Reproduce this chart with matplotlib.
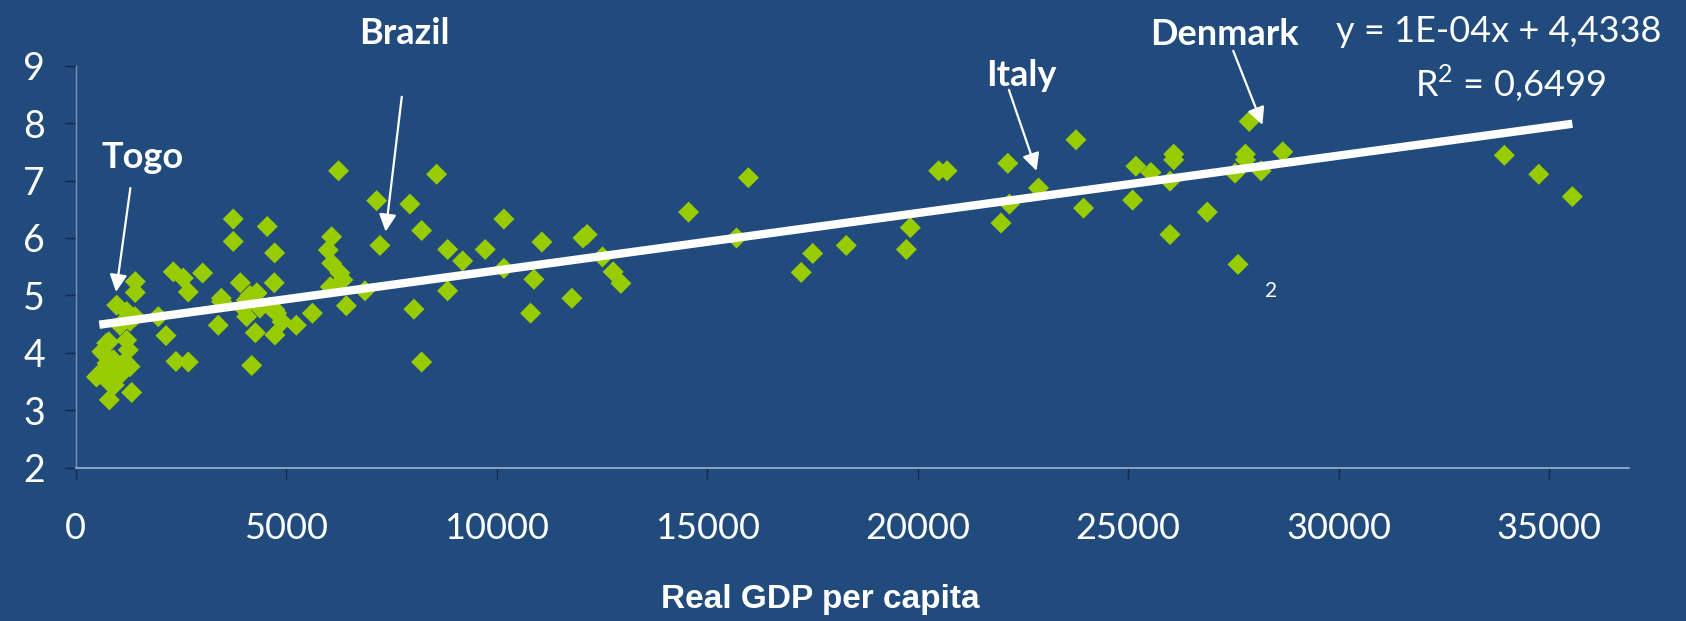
import numpy as np
import matplotlib
matplotlib.use('Agg')
from matplotlib import pyplot as plt

# CONSTANTS
BG = '#214a7d'
GREEN = '#99cc00'
SLOPE = 1e-4
INTERCEPT = 4.4338

plt.rcParams['mathtext.fontset'] = 'custom'
plt.rcParams['mathtext.rm'] = 'Lato'

# DATA
gdp = [491, 537, 620, 656, 736, 736, 745, 789, 799, 815, 893, 917, 974, 974,
       1052, 1086, 1171, 1211, 1211, 1250, 1290, 1290, 1330, 1408, 1416, 1416,
       1962, 2145, 2318, 2382, 2556, 2674, 2674, 3016, 3387, 3461, 3468, 3743,
       3743, 3911, 3981, 4055, 4061, 4140, 4182, 4268, 4299, 4307, 4377, 4551,
       4615, 4726, 4717, 4733, 4733, 4774, 4900, 5242, 5624,
       5999, 6049, 6080, 6080, 6244, 6277, 6346, 6430, 6871, 7149, 7227, 7940,
       8035, 8218, 8218, 8574, 8835, 8835, 9192, 9728, 10172, 10172, 10806,
       10885, 11075, 11787, 12050, 12150, 12515, 12768, 12951, 14559, 15699,
       15981, 17235, 17508, 18306, 19733, 19827, 20500, 20700, 21981, 22143,
       22181, 22872, 23762, 23942, 25108, 25186, 25543, 25996, 25996, 26084,
       26084, 26882, 27541, 27612, 27788, 27788, 27878, 28160, 28675, 33939,
       34756, 35554]
score = [3.58, 3.61, 4.02, 3.99, 4.17, 3.76, 3.82, 4.19, 3.18, 3.47, 3.88, 3.44,
         3.67, 4.83, 4.48, 3.64, 3.85, 4.22, 4.72, 4.05, 3.76, 4.55, 3.31, 4.63,
         5.24, 5.05,
         4.63, 4.30, 5.41, 3.85, 5.30, 5.06, 3.84, 5.39, 4.48, 4.95, 4.89, 6.33,
         5.94, 5.22, 4.78, 4.92, 4.63, 5.00, 3.78, 4.35, 5.04, 5.04, 4.78, 6.20,
         4.80, 5.74, 5.22, 4.75, 4.31, 4.69, 4.54, 4.48, 4.69,
         5.79, 5.15, 6.02, 5.56, 7.17, 5.39, 5.27, 4.82, 5.08, 6.65, 5.87, 6.59,
         4.76, 6.13, 3.84, 7.11, 5.80, 5.08, 5.60, 5.80, 6.33, 5.47, 4.69,
         5.28, 5.93, 4.95, 6.00, 6.06, 5.67, 5.41, 5.21, 6.45, 6.00,
         7.05, 5.40, 5.73, 5.87, 5.80, 6.18, 7.17, 7.17, 6.26, 7.30,
         6.59, 6.87, 7.71, 6.52, 6.66, 7.25, 7.14, 6.99, 6.06, 7.46,
         7.36, 6.45, 7.13, 5.54, 7.46, 7.36, 8.03, 7.17, 7.50, 7.44,
         7.11, 6.72]

xticks = [0, 5000, 10000, 15000, 20000, 25000, 30000, 35000]
yticks = [2, 3, 4, 5, 6, 7, 8, 9]

# labelled countries: text position and arrow tail -> tip (data coords)
countries = ['Togo', 'Brazil', 'Italy', 'Denmark']
label_xy = [(1598, 7.22), (7797, 9.37), (22452, 8.65), (27278, 9.36)]
arrow_from = [(1299, 6.87), (7746, 8.46), (22168, 8.58), (27498, 9.26)]
arrow_to = [(957, 5.06), (7363, 6.11), (22826, 7.17), (28192, 7.97)]


# SCRIPT
if __name__ == '__main__':
    fig = plt.figure(figsize=(16.86, 6.21), dpi=100, facecolor=BG)
    ax = fig.add_axes([0.0449, 0.2469, 0.9213, 0.6473], facecolor=BG)

    ax.scatter(gdp, score, marker='D', s=115, color=GREEN,
               edgecolors='none', zorder=2)

    # linear trend line over the data range
    x_fit = np.array([min(gdp) + 70, max(gdp)])
    ax.plot(x_fit, SLOPE * x_fit + INTERCEPT, color='white', lw=6,
            solid_capstyle='butt', zorder=3)

    ax.set_xlim(0, 36900)
    ax.set_ylim(2, 9)
    ax.set_xticks(xticks)
    ax.set_yticks(yticks)
    ax.set_xticklabels([str(t) for t in xticks], family='Lato', fontsize=26,
                       color='white')
    ax.set_yticklabels([str(t) for t in yticks], family='Lato', fontsize=27,
                       color='white')
    ax.tick_params(axis='x', direction='out', length=8, width=1,
                   color='#13294a', pad=24)
    ax.tick_params(axis='y', direction='out', length=8, width=1,
                   color='#13294a', pad=14)

    for side in ['top', 'right']:
        ax.spines[side].set_visible(False)
    ax.spines['left'].set_color('#7d93b5')
    ax.spines['bottom'].set_color('#9fb1cc')
    ax.spines['left'].set_linewidth(1)
    ax.spines['bottom'].set_linewidth(1.2)

    # country labels with arrows
    for name, (tx, ty), tail, tip in zip(countries, label_xy, arrow_from,
                                         arrow_to):
        ax.text(tx, ty, name, family='Lato', fontweight='bold', fontsize=26,
                color='white', ha='center', va='baseline', clip_on=False)
        ax.annotate('', xy=tip, xytext=tail, annotation_clip=False,
                    arrowprops=dict(arrowstyle='-|>', color='white', lw=1.6,
                                    mutation_scale=26, shrinkA=0, shrinkB=0),
                    zorder=4)

    # trendline equation
    fig.text(0.8891, 0.9329, 'y = 1E-04x + 4,4338', family='Lato',
             fontsize=26, color='white', ha='center', va='baseline')
    fig.text(0.896, 0.8443, r'R$^{2}$ = 0,6499', family='Lato', fontsize=26,
             color='white', ha='center', va='baseline')
    fig.text(0.7537, 0.5222, '2', family='Lato', fontsize=15, color='white',
             ha='center', va='baseline')

    fig.text(0.4864, 0.0205, 'Real GDP per capita', family='Liberation Sans',
             fontweight='bold', fontsize=24, color='white', ha='center',
             va='baseline')

    fig.savefig('out.png', dpi=100, facecolor=BG)
